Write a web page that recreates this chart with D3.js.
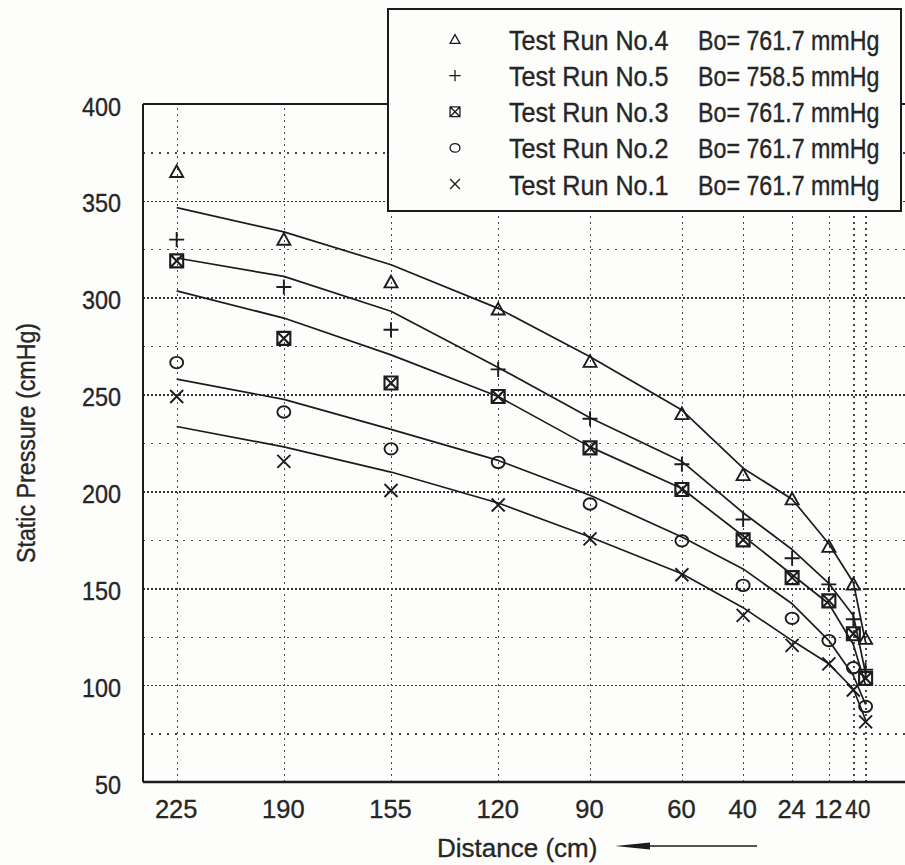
<!DOCTYPE html>
<html>
<head>
<meta charset="utf-8">
<script src="https://cdn.jsdelivr.net/npm/d3@7"></script>
<style>
  html, body { margin: 0; padding: 0; background: #fdfdfc; }
  svg { display: block; }
  text { font-family: "Liberation Sans", Arial, Helvetica, sans-serif; fill: #262626; stroke: #262626; stroke-width: 0.35; }
</style>
</head>
<body>
<svg id="chart" width="905" height="865"></svg>
<script>
// Distance along the pipe (cm), measured back from the outlet
const distances = [225, 190, 155, 120, 90, 60, 40, 24, 12, 4, 0];

// Measured static pressure (cmHg) for each test run
const run4 = [365, 330, 308, 294, 267, 240, 208.5, 196, 171.5, 152, 124];
const run5 = [330, 305.5, 283.5, 263, 237.5, 214, 185.5, 165.5, 152, 134, 108];
const run3 = [319, 279, 256, 249, 222.5, 201, 175, 155.5, 143.5, 126.5, 103.5];
const run2 = [266.5, 241, 222, 215, 193.5, 174.5, 151.5, 134.5, 123, 109, 89];
const run1 = [249, 215.5, 200.5, 193, 175.5, 157, 136, 120.5, 111, 97.5, 81];

// Fitted pressure values (cmHg) at the same distances, joined segment by segment
const fit4 = [346.5, 334, 317, 294.5, 269.5, 242, 212, 196, 173, 153, 122];
const fit5 = [320.5, 311, 293, 264, 238, 215.5, 189, 170, 152.5, 136, 106];
const fit3 = [303.5, 289.5, 270.5, 249, 223, 201.5, 177, 157, 142, 121, 100];
const fit2 = [258, 247.5, 232, 216, 198, 176.5, 160, 142, 123, 105, 90];
const fit1 = [233.5, 223, 210, 194, 176.5, 157.5, 140, 123, 111, 98, 82];

// Legend entries, top to bottom
const runNames = ["Test Run No.4", "Test Run No.5", "Test Run No.3", "Test Run No.2", "Test Run No.1"];
const baroLabels = ["Bo= 761.7 mmHg", "Bo= 758.5 mmHg", "Bo= 761.7 mmHg", "Bo= 761.7 mmHg", "Bo= 761.7 mmHg"];
const markerKinds = ["triangle", "plus", "boxcross", "circle", "cross"];
const runValues = [run4, run5, run3, run2, run1];
const fitValues = [fit4, fit5, fit3, fit2, fit1];

// Axis ticks
const yMajorTicks = [50, 100, 150, 200, 250, 300, 350, 400];
const yMinorTicks = [75, 125, 175, 225, 275, 325, 375];

const svg = d3.select("#chart");
const frame = { left: 143, right: 910, top: 104, bottom: 782 };

const x = d3.scaleLinear().domain([236, -14.5]).range([frame.left, frame.right]);
const y = d3.scaleLinear().domain([50, 400]).range([frame.bottom, frame.top]);

const ink = "#1c1c1c";

// ---- grid ----
const grid = svg.append("g").attr("shape-rendering", "crispEdges");
grid.append("g")
  .attr("transform", `translate(${frame.left},0)`)
  .call(d3.axisLeft(y).tickValues(yMinorTicks).tickSize(-(frame.right - frame.left)).tickFormat(""))
  .call(g => g.select(".domain").remove())
  .call(g => g.selectAll("line").attr("stroke", "#474747").attr("stroke-width", 1.4).attr("stroke-dasharray", "2,6"));
grid.append("g")
  .attr("transform", `translate(${frame.left},0)`)
  .call(d3.axisLeft(y).tickValues(yMajorTicks.filter(v => v > 50 && v < 400)).tickSize(-(frame.right - frame.left)).tickFormat(""))
  .call(g => g.select(".domain").remove())
  .call(g => g.selectAll("line").attr("stroke", "#333").attr("stroke-width", 1.5).attr("stroke-dasharray", "2,2"));
grid.append("g")
  .attr("transform", `translate(0,${frame.bottom})`)
  .call(d3.axisBottom(x).tickValues(distances).tickSize(-(frame.bottom - frame.top)).tickFormat(""))
  .call(g => g.select(".domain").remove())
  .call(g => g.selectAll("line").attr("stroke", "#474747").attr("stroke-width", 1.3).attr("stroke-dasharray", "2,4"));

// ---- frame ----
svg.append("line").attr("x1", frame.left).attr("x2", frame.left).attr("y1", frame.top).attr("y2", frame.bottom)
  .attr("stroke", ink).attr("stroke-width", 2);
svg.append("line").attr("x1", frame.left).attr("x2", frame.right).attr("y1", frame.bottom).attr("y2", frame.bottom)
  .attr("stroke", ink).attr("stroke-width", 2.4);
svg.append("line").attr("x1", frame.left).attr("x2", frame.right).attr("y1", frame.top).attr("y2", frame.top)
  .attr("stroke", ink).attr("stroke-width", 2);

// ---- fitted curves ----
const line = d3.line()
  .x((d, i) => x(distances[i]))
  .y(d => y(d))
  .curve(d3.curveLinear);
svg.append("g").selectAll("path")
  .data(fitValues)
  .join("path")
  .attr("d", line)
  .attr("fill", "none")
  .attr("stroke", ink)
  .attr("stroke-width", 1.7)
  .attr("stroke-linejoin", "round");

// ---- markers ----
function markerPath(kind, s) {
  switch (kind) {
    case "triangle": return `M0,${-s} L${s},${s * 0.8} L${-s},${s * 0.8} Z`;
    case "plus": return `M${-s},0 H${s} M0,${-s} V${s}`;
    case "boxcross": return `M${-s},${-s} H${s} V${s} H${-s} Z M${-s},${-s} L${s},${s} M${s},${-s} L${-s},${s}`;
    case "circle": return `M${-s},0 A${s},${s * 0.88} 0 1,0 ${s},0 A${s},${s * 0.88} 0 1,0 ${-s},0`;
    case "cross": return `M${-s},${-s} L${s},${s} M${s},${-s} L${-s},${s}`;
  }
}
const markerSize = { triangle: 6.5, plus: 7.5, boxcross: 6.5, circle: 6.5, cross: 6.5 };

runValues.forEach((vals, si) => {
  const kind = markerKinds[si];
  svg.append("g").selectAll("path")
    .data(vals)
    .join("path")
    .attr("transform", (d, i) => `translate(${x(distances[i])},${y(d)})`)
    .attr("d", markerPath(kind, markerSize[kind]))
    .attr("fill", "none")
    .attr("stroke", ink)
    .attr("stroke-width", kind === "boxcross" ? 2.1 : 1.9);
});

// ---- axis labels ----
const yAxis = svg.append("g")
  .attr("transform", `translate(${frame.left},0)`)
  .call(d3.axisLeft(y).tickValues(yMajorTicks).tickSize(0).tickFormat(d3.format("d")))
  .call(g => g.select(".domain").remove());
yAxis.selectAll("text")
  .attr("x", null).attr("dy", null)
  .attr("transform", "translate(-22,11) scale(0.9,1)")
  .attr("font-size", 26)
  .attr("fill", "#262626");

const xAxis = svg.append("g")
  .attr("transform", `translate(0,${frame.bottom})`)
  .call(d3.axisBottom(x).tickValues(distances).tickSize(0).tickFormat(d3.format("d")))
  .call(g => g.select(".domain").remove());
xAxis.selectAll("text")
  .attr("y", null).attr("dy", null)
  .attr("transform", d => d <= 4 ? `translate(${d === 4 ? -2.5 : -2},36) scale(0.86,1)` : "translate(-1,36) scale(0.98,1)")
  .attr("font-size", 26)
  .attr("fill", "#262626");

svg.append("text")
  .attr("transform", "translate(26,443) rotate(-90) scale(0.93,1)")
  .attr("text-anchor", "middle")
  .attr("dy", "0.36em")
  .attr("font-size", 25)
  .text("Static Pressure (cmHg)");

svg.append("text")
  .attr("transform", "translate(437,857) scale(1.0,1)")
  .attr("font-size", 26)
  .text("Distance (cm)");

// direction arrow beside the distance title
svg.append("line").attr("x1", 640).attr("x2", 757).attr("y1", 846).attr("y2", 846)
  .attr("stroke", ink).attr("stroke-width", 1.4);
svg.append("path").attr("d", "M615,846 L650,842.5 L650,849.5 Z").attr("fill", ink);

// ---- legend ----
const legend = svg.append("g");
legend.append("rect")
  .attr("x", 388).attr("y", 9).attr("width", 513).attr("height", 202)
  .attr("fill", "#fdfdfc").attr("stroke", ink).attr("stroke-width", 2);
const rowY = d3.scalePoint().domain(runNames).range([39.5, 184]);
const rows = legend.selectAll("g.row").data(runNames).join("g")
  .attr("class", "row")
  .attr("transform", d => `translate(0,${rowY(d)})`);
rows.append("path")
  .attr("transform", "translate(455,0)")
  .attr("d", (d, i) => markerPath(markerKinds[i], markerSize[markerKinds[i]] * 0.76))
  .attr("fill", "none").attr("stroke", ink).attr("stroke-width", 1.3);
rows.append("text")
  .attr("transform", "translate(509,10.5) scale(0.9,1)")
  .attr("font-size", 28)
  .text(d => d);
rows.append("text")
  .attr("transform", "translate(698,10.5) scale(0.83,1)")
  .attr("font-size", 28)
  .text((d, i) => baroLabels[i]);
</script>
</body>
</html>
